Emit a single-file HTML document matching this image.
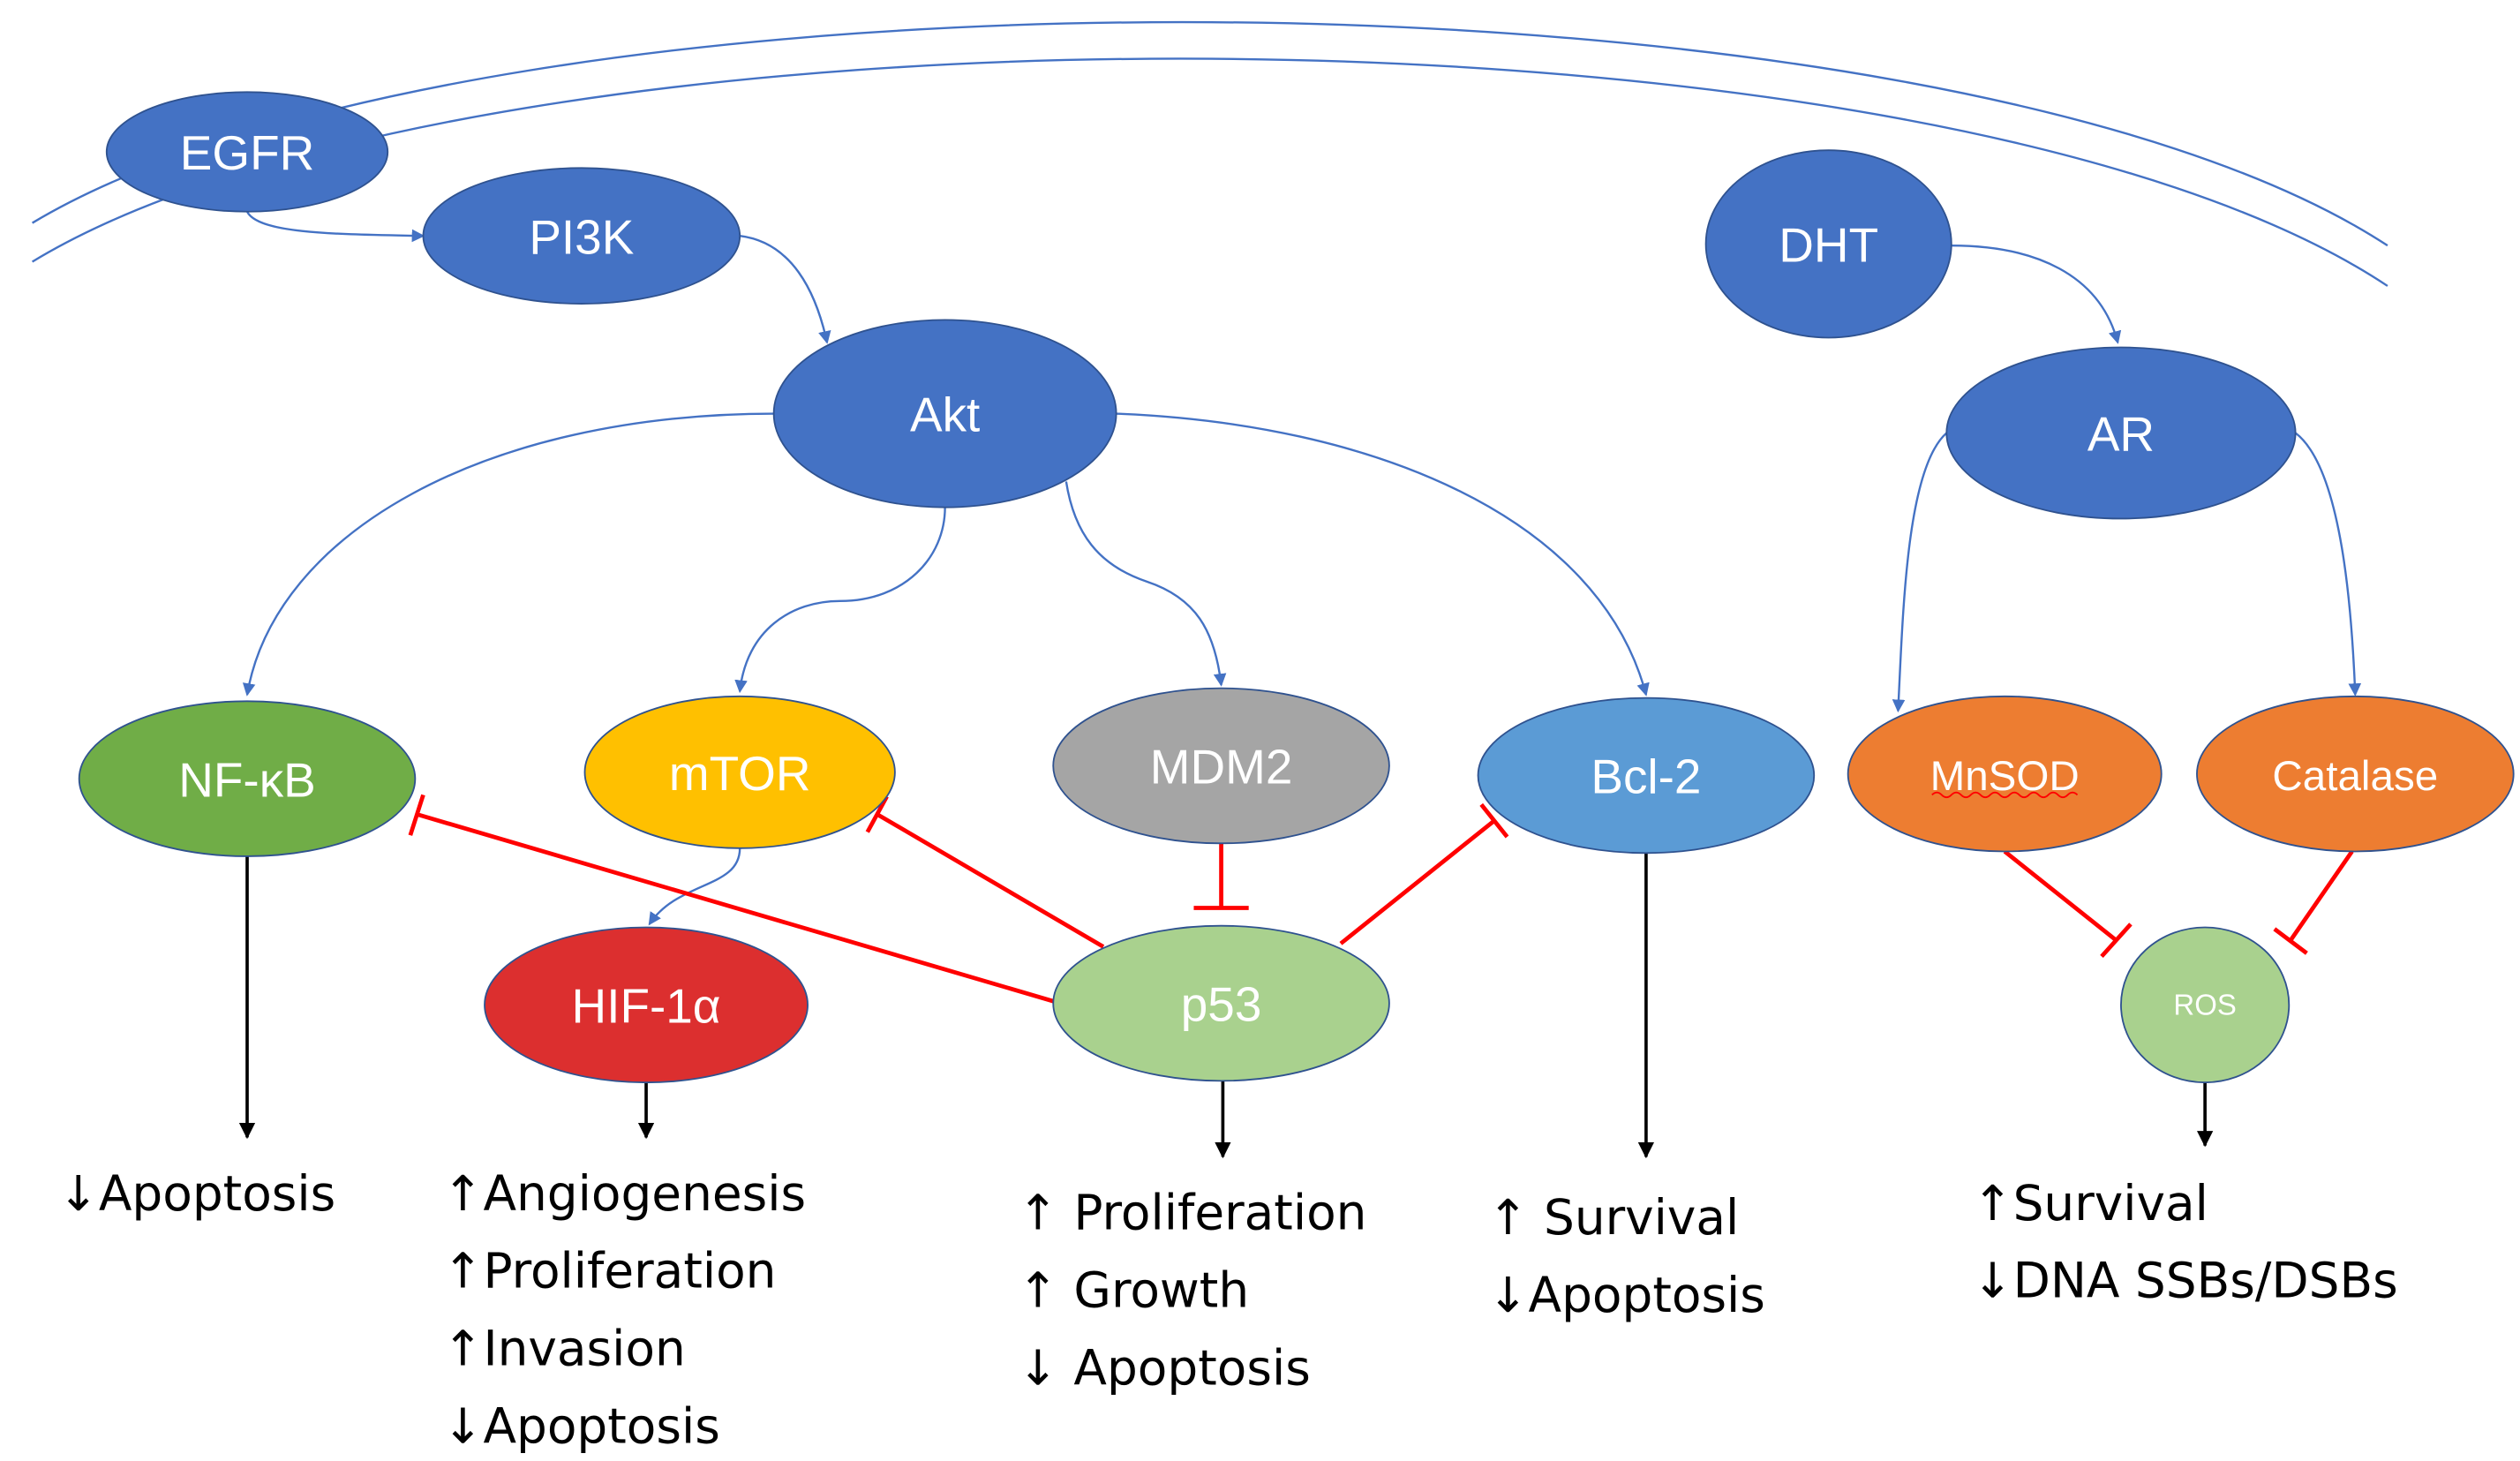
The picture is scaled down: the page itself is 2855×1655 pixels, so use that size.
<!DOCTYPE html>
<html><head><meta charset="utf-8"><style>
html,body{margin:0;padding:0;background:#fff;}
svg{display:block;}
text{font-family:"Liberation Sans","DejaVu Sans",sans-serif;}
.b text{font-family:"DejaVu Sans","Liberation Sans",sans-serif;}
</style></head><body>
<svg width="2855" height="1655" viewBox="0 0 1560 904.3" preserveAspectRatio="none" xmlns="http://www.w3.org/2000/svg">
<defs>
<marker id="ab" markerWidth="8" markerHeight="8" refX="7" refY="4" orient="auto" markerUnits="userSpaceOnUse"><path d="M0,0 L8,4 L0,8 z" fill="#4472c4"/></marker>
<marker id="ak" markerWidth="10" markerHeight="10" refX="9" refY="5" orient="auto" markerUnits="userSpaceOnUse"><path d="M0,0 L10,5 L0,10 z" fill="#000"/></marker>
</defs>
<g fill="none" stroke="#4472c4" stroke-width="1.3">
<path d="M20,138 C300,-30 1200,-30 1478,152"/>
<path d="M20,162 C300,-8 1200,-8 1478,177"/>
</g>
<g fill="none" stroke="#4472c4" stroke-width="1.3" marker-end="url(#ab)">
<path d="M153,131 C160,145 210,145 262,146"/>
<path d="M458,146 C490,150 505,180 512,212"/>
<path d="M480,256 C300,256 170,330 153,430"/>
<path d="M585,314 C585,345 560,372 520,372 C490,372 462,390 458,428"/>
<path d="M660,298 C665,330 680,350 710,360 C740,370 752,390 756,424"/>
<path d="M690,256 C850,262 990,320 1019,430"/>
<path d="M1208,152 C1260,152 1300,170 1311,212"/>
<path d="M1205,268 C1180,290 1178,380 1175,440"/>
<path d="M1421,268 C1450,290 1456,380 1458,430"/>
<path d="M458,525 C458,550 420,545 402,572"/>
</g>
<g stroke="#ff0000" stroke-width="2.6" fill="none">
<path d="M653,620 L258,504 M254,517 L262,492"/>
<path d="M683,586 L543,504 M537,515 L549,493"/>
<path d="M756,522 L756,562 M739,562 L773,562"/>
<path d="M830,584 L925,508 M917,498 L933,518"/>
<path d="M1241,527 L1310,582 M1301,592 L1319,572"/>
<path d="M1456,527 L1418,582 M1408,575 L1428,590"/>
</g>
<g stroke="#000" stroke-width="2" marker-end="url(#ak)">
<line x1="153" y1="530" x2="153" y2="704"/>
<line x1="400" y1="670" x2="400" y2="704"/>
<line x1="757" y1="669" x2="757" y2="716"/>
<line x1="1019" y1="528" x2="1019" y2="716"/>
<line x1="1365" y1="670" x2="1365" y2="709"/>
</g>
<g stroke="#2f528f" stroke-width="1">
<ellipse cx="153" cy="94" rx="87" ry="37" fill="#4472c4"/>
<ellipse cx="360" cy="146" rx="98" ry="42" fill="#4472c4"/>
<ellipse cx="585" cy="256" rx="106" ry="58" fill="#4472c4"/>
<ellipse cx="1132" cy="151" rx="76" ry="58" fill="#4472c4"/>
<ellipse cx="1313" cy="268" rx="108" ry="53" fill="#4472c4"/>
<ellipse cx="153" cy="482" rx="104" ry="48" fill="#70ad47"/>
<ellipse cx="458" cy="478" rx="96" ry="47" fill="#ffc000"/>
<ellipse cx="756" cy="474" rx="104" ry="48" fill="#a5a5a5"/>
<ellipse cx="1019" cy="480" rx="104" ry="48" fill="#5b9bd5"/>
<ellipse cx="1241" cy="479" rx="97" ry="48" fill="#ed7d31"/>
<ellipse cx="1458" cy="479" rx="98" ry="48" fill="#ed7d31"/>
<ellipse cx="400" cy="622" rx="100" ry="48" fill="#dc2f2f"/>
<ellipse cx="756" cy="621" rx="104" ry="48" fill="#a9d18e"/>
<ellipse cx="1365" cy="622" rx="52" ry="48" fill="#a9d18e"/>
</g>
<g fill="#fff" font-size="30" text-anchor="middle">
<text x="153" y="105">EGFR</text>
<text x="360" y="157">PI3K</text>
<text x="585" y="267">Akt</text>
<text x="1132" y="162">DHT</text>
<text x="1313" y="279">AR</text>
<text x="153" y="493">NF-κB</text>
<text x="458" y="489">mTOR</text>
<text x="756" y="485">MDM2</text>
<text x="1019" y="491">Bcl-2</text>
<text x="1241" y="489" font-size="26">MnSOD</text>
<text x="1458" y="489" font-size="26">Catalase</text>
<text x="400" y="633">HIF-1α</text>
<text x="756" y="632">p53</text>
<text x="1365" y="628" font-size="18">ROS</text>
</g>
<path d="M1196,492 q3,-3 6,0 t6,0 t6,0 t6,0 t6,0 t6,0 t6,0 t6,0 t6,0 t6,0 t6,0 t6,0 t6,0 t6,0 t6,0" stroke="#ff0000" fill="none" stroke-width="1"/>
<g class="b" fill="#000" font-size="30">
<text x="36" y="749">↓Apoptosis</text>
<text x="274" y="749">↑Angiogenesis</text>
<text x="274" y="797">↑Proliferation</text>
<text x="274" y="845">↑Invasion</text>
<text x="274" y="893">↓Apoptosis</text>
<text x="630" y="761">↑ Proliferation</text>
<text x="630" y="809">↑ Growth</text>
<text x="630" y="857">↓ Apoptosis</text>
<text x="921" y="764">↑ Survival</text>
<text x="921" y="812">↓Apoptosis</text>
<text x="1221" y="755">↑Survival</text>
<text x="1221" y="803">↓DNA SSBs/DSBs</text>
</g>
</svg>
</body></html>
